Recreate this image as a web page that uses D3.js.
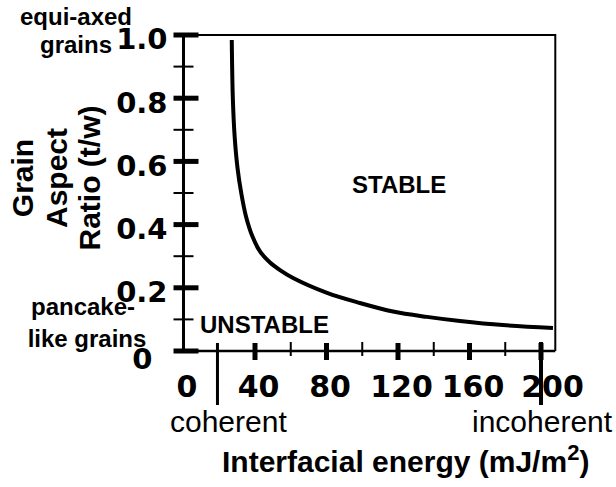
<!DOCTYPE html>
<html><head><meta charset="utf-8">
<script src="https://cdn.jsdelivr.net/npm/d3@7"></script>
<style>body{margin:0;background:#fff}svg{display:block;background:#fff}</style>
</head><body><svg id="c" width="616" height="487"></svg>
<script>
// ---- data ----
const energy = [27.0, 27.6, 28.6, 30.2, 32.3, 35.0, 38.6, 42.8, 48.4, 54.0, 61.3, 80.3, 98.7, 117.2, 136.2, 154.7, 178.7, 206.7];
const aspect = [0.984, 0.800, 0.680, 0.580, 0.500, 0.425, 0.362, 0.315, 0.280, 0.256, 0.231, 0.184, 0.152, 0.125, 0.108, 0.095, 0.082, 0.073];
const xMajorTicks = [0, 40, 80, 120, 160, 200];
const xMinorTicks = [60, 100, 140, 180];
const yMajorTicks = [0, 0.2, 0.4, 0.6, 0.8, 1.0];
const yMinorTicks = [0.1, 0.3, 0.5, 0.7, 0.9];
const yTickLabels = ["0", "0.2", "0.4", "0.6", "0.8", "1.0"];
const coherentEnergy = 19;
const incoherentEnergy = 200;
const yTitleLines = ["Grain", "Aspect", "Ratio (t/w)"];

// ---- scales ----
const svg = d3.select("#c");
const x = d3.scaleLinear().domain([0, 208]).range([183.5, 555.3]);
const y = d3.scaleLinear().domain([0, 1]).range([351, 35]);
const BOLD = "'Liberation Sans', Arial, sans-serif";
const TICKF = "'DejaVu Sans', sans-serif";

// frame (top and right)
svg.append("path")
  .attr("d", `M${x(0)},${y(1)}H${x(208)}V${y(0)}`)
  .attr("fill", "none").attr("stroke", "#000").attr("stroke-width", 2);

// y axis line
svg.append("line").attr("x1", x(0)).attr("x2", x(0)).attr("y1", y(1) - 1).attr("y2", y(0) + 2)
  .attr("stroke", "#000").attr("stroke-width", 3);
// x axis line
svg.append("line").attr("x1", x(0)).attr("x2", x(208)).attr("y1", y(0)).attr("y2", y(0))
  .attr("stroke", "#000").attr("stroke-width", 2.5);

// y minor ticks
svg.selectAll(".ymin").data(yMinorTicks).join("line")
  .attr("x1", x(0) - 10).attr("x2", x(0) + 10)
  .attr("y1", d => y(d)).attr("y2", d => y(d))
  .attr("stroke", "#000").attr("stroke-width", 2);
// y major ticks
svg.selectAll(".ymaj").data(yMajorTicks).join("line")
  .attr("x1", x(0) - 10).attr("x2", x(0) + 15)
  .attr("y1", d => y(d)).attr("y2", d => y(d))
  .attr("stroke", "#000").attr("stroke-width", 5);

// x minor ticks
svg.selectAll(".xmin").data(xMinorTicks).join("line")
  .attr("x1", d => x(d)).attr("x2", d => x(d))
  .attr("y1", y(0) - 9).attr("y2", y(0) + 5)
  .attr("stroke", "#000").attr("stroke-width", 2);
// x major ticks
svg.selectAll(".xmaj").data(xMajorTicks.filter(d => d > 0)).join("line")
  .attr("x1", d => x(d)).attr("x2", d => x(d))
  .attr("y1", y(0) - 8).attr("y2", y(0) + 9)
  .attr("stroke", "#000").attr("stroke-width", 5);

// coherent / incoherent markers
svg.append("line").attr("x1", x(coherentEnergy)).attr("x2", x(coherentEnergy))
  .attr("y1", y(0) - 8).attr("y2", 405).attr("stroke", "#000").attr("stroke-width", 3);
svg.append("line").attr("x1", x(incoherentEnergy)).attr("x2", x(incoherentEnergy))
  .attr("y1", y(0) - 9).attr("y2", 405).attr("stroke", "#000").attr("stroke-width", 4);

// y tick labels via axis
const yAxis = d3.axisLeft(y).tickValues(yMajorTicks).tickSize(0).tickPadding(16)
  .tickFormat((d, i) => yTickLabels[i]);
const gy = svg.append("g").attr("transform", `translate(${x(0)},0)`).call(yAxis);
gy.select(".domain").remove();
gy.selectAll("text").attr("font-family", TICKF).attr("font-weight", "bold")
  .attr("font-size", 29).attr("fill", "#000").attr("dy", "0.48em");
gy.selectAll("text").filter(d => d === 0).attr("x", -31).attr("dy", "0.62em");

// x tick labels via axis
const xAxis = d3.axisBottom(x).tickValues(xMajorTicks).tickSize(0).tickPadding(0);
const gx = svg.append("g").attr("transform", `translate(0,${y(0)})`).call(xAxis);
gx.select(".domain").remove();
gx.selectAll("text").attr("font-family", TICKF).attr("font-weight", "bold")
  .attr("font-size", 30).attr("fill", "#000").attr("y", 46).attr("dy", 0)
  .attr("dx", d => d === 200 ? 11 : 3);

// curve
const line = d3.line().x((d, i) => x(energy[i])).y(d => y(d)).curve(d3.curveCatmullRom.alpha(0.5));
svg.append("path").datum(aspect).attr("d", line)
  .attr("fill", "none").attr("stroke", "#000").attr("stroke-width", 4);

// annotations
function txt(t, px, py, size, anchor, weight) {
  return svg.append("text").attr("x", px).attr("y", py).text(t)
    .attr("font-family", BOLD).attr("font-weight", weight || "bold")
    .attr("font-size", size).attr("text-anchor", anchor || "start").attr("fill", "#000");
}
txt("equi-axed", 76, 25, 24, "middle");
txt("grains", 76, 53, 24, "middle");
txt("pancake-", 83, 315, 24, "middle");
txt("like grains", 87, 347, 24, "middle");
txt("STABLE", 352, 193, 24);
txt("UNSTABLE", 200, 333, 24);
txt("coherent", 170, 432, 30, "start", "normal");
txt("incoherent", 472, 432, 30, "start", "normal");

const xt = txt("Interfacial energy (mJ/m", 222, 472, 30);
xt.append("tspan").text("2").attr("font-size", 22).attr("dy", -12);
xt.append("tspan").text(")").attr("dy", 12);

// y title
const yt = svg.append("text").attr("transform", "translate(0,178) rotate(-90)")
  .attr("font-family", BOLD).attr("font-weight", "bold").attr("font-size", 30)
  .attr("text-anchor", "middle").attr("fill", "#000");
yt.selectAll("tspan").data(yTitleLines).join("tspan")
  .attr("x", 0).attr("y", (d, i) => 33 + i * 33.5).text(d => d);
</script>
</body></html>
